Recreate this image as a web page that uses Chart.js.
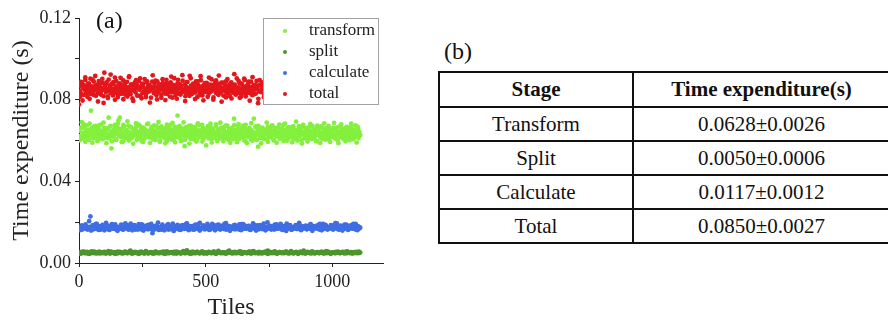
<!DOCTYPE html>
<html>
<head>
<meta charset="utf-8">
<title>Time expenditure per tile</title>
<script src="https://cdn.jsdelivr.net/npm/chart.js@4.4.1/dist/chart.umd.min.js"></script>
<style>
  html, body { margin: 0; padding: 0; background: #fff; }
  #wrap { position: relative; width: 888px; height: 320px; overflow: hidden;
          font-family: 'Liberation Serif', 'Times New Roman', serif; color: #111; }
  #plot { position: absolute; left: 0; top: 0; }
  .panel-tag { position: absolute; font-size: 24px; line-height: 24px; }
  #tbl { position: absolute; left: 438px; top: 71px; border-collapse: collapse;
         table-layout: fixed; width: 451px; font-size: 21px; }
  #tbl th, #tbl td { border: 2px solid #111; text-align: center; padding: 0; height: 32px; }
  #tbl th { height: 33px; font-weight: bold; }
</style>
</head>
<body>
<div id="wrap">
  <canvas id="plot" width="400" height="320"></canvas>
  <div class="panel-tag" style="left:96px; top:8px;">(a)</div>
  <div class="panel-tag" style="left:444px; top:39px;">(b)</div>
  <table id="tbl">
    <colgroup><col style="width:194px"><col style="width:257px"></colgroup>
    <thead><tr id="tblHead"></tr></thead>
    <tbody id="tblBody"></tbody>
  </table>
</div>
<script>
// Per-tile processing time of each stage, in milliseconds, sampled evenly over the tiles.
// Each stage has two interleaved sample passes (A on even steps, B half a step later).
const lastTile = 1110;

const transformMs = [
  64.8, 62.1, 65.9, 61.4, 69.0, 63.7, 60.8, 66.3, 62.9, 64.2, 61.8, 67.4, 63.1, 65.2, 60.3, 64.6, 62.5, 74.6, 66.0, 63.4,
  61.1, 65.5, 63.9, 67.1, 62.3, 64.0, 59.8, 66.6, 63.2, 61.6, 65.0, 62.7, 67.9, 64.4, 60.9, 63.6, 66.2, 62.0, 64.9, 61.3,
  65.7, 63.0, 71.2, 62.4, 66.8, 64.3, 56.1, 63.8, 61.9, 65.3, 62.6, 67.6, 60.5, 64.1, 63.5, 66.1, 69.8, 62.2, 71.2, 64.7,
  61.7, 65.8, 63.3, 59.6, 66.9, 62.8, 64.5, 61.2, 65.1, 63.9, 67.3, 62.0, 64.0, 60.7, 66.4, 63.4, 61.5, 65.6, 62.9, 64.8,
  63.1, 66.5, 60.2, 64.3, 62.4, 67.8, 63.6, 61.0, 65.4, 62.7, 64.6, 59.3, 66.0, 63.0, 65.2, 61.8, 64.1, 62.5, 68.2, 63.7,
  61.4, 64.9, 62.2, 66.7, 63.5, 60.6, 65.0, 62.8, 64.4, 61.3, 67.0, 63.2, 65.9, 62.1, 64.0, 60.1, 66.3, 63.8, 61.9, 65.5,
  62.6, 64.7, 61.1, 66.2, 63.3, 59.9, 65.7, 62.3, 64.2, 67.5, 61.6, 63.9, 65.3, 62.0, 60.4, 64.5, 66.8, 63.1, 61.7, 65.1,
  72.2, 62.9, 64.3, 61.5, 66.0, 63.6, 60.0, 65.8, 62.4, 64.8, 57.2, 63.0, 66.6, 61.9, 64.1, 62.7, 67.2, 63.4, 60.8, 65.2,
  62.1, 64.6, 66.4, 61.2, 63.8, 65.6, 62.5, 60.3, 64.9, 63.2, 67.7, 61.8, 65.0, 62.6, 64.2, 59.5, 66.1, 63.5, 61.4, 64.7,
  65.3, 62.2, 63.9, 67.0, 61.0, 64.4, 62.8, 66.5, 60.6, 63.7, 65.4, 62.0, 64.0, 61.6, 66.9, 63.3, 59.8, 65.1, 62.7, 64.5,
  61.3, 65.9, 63.0, 60.9, 66.3, 62.4, 64.8, 61.9, 63.6, 67.4, 62.1, 64.2, 60.2, 65.6, 63.4, 61.5, 64.7, 66.0, 62.9, 63.8,
  70.7, 62.3, 65.2, 61.1, 64.1, 63.1, 66.7, 60.7, 64.6, 62.6, 65.8, 61.7, 63.9, 67.3, 62.0, 64.3, 59.7, 65.5, 63.2, 61.8,
  64.9, 62.5, 66.2, 63.7, 60.4, 65.0, 62.2, 64.0, 70.7, 61.4, 63.5, 66.4, 62.8, 64.5, 57.0, 63.0, 65.7, 61.2, 64.2, 62.4,
  66.0, 63.6, 61.0, 64.8, 62.9, 65.3, 60.5, 63.9, 66.8, 62.1, 64.4, 61.6, 65.1, 63.3, 67.1, 62.7, 60.1, 64.6, 63.0, 65.9,
  61.9, 64.1, 62.3, 66.5, 63.8, 60.8, 65.4, 62.6, 64.0, 61.3, 67.6, 63.1, 65.0, 62.0, 64.7, 59.9, 66.3, 63.4, 61.7, 64.9,
  62.8, 65.6, 63.2, 61.1, 66.1, 62.4, 64.3, 60.6, 65.2, 63.7, 61.5, 64.5, 67.0, 62.2, 63.9, 65.8, 60.3, 64.1, 62.9, 66.6,
  63.5, 61.8, 65.1, 62.5, 64.8, 60.9, 66.4, 63.0, 61.4, 64.6, 62.1, 67.2, 63.6, 65.5, 61.0, 64.2, 62.7, 66.0, 59.6, 63.3,
  65.7, 62.3, 64.0, 61.2, 66.9, 63.4, 60.7, 65.3, 62.6, 64.4, 61.6, 66.2, 63.1, 64.9, 62.0, 60.4, 65.0, 63.8, 61.9, 64.7,
  62.4, 66.3, 63.2, 61.3, 65.6, 62.8, 64.1, 60.2, 66.7, 63.7, 61.7, 64.5, 62.2, 65.9, 63.0, 61.1, 64.8, 62.5, 66.1, 63.5,
  60.8, 64.3, 62.9, 65.4, 61.5, 63.9, 66.5, 62.1, 64.6, 60.6, 65.2, 63.3, 61.8, 64.0, 62.7, 66.8, 63.6, 61.2, 64.2, 62.6
];
const transformMsB = [
  60.1, 66.4, 62.0, 67.9, 59.4, 64.9, 61.2, 68.3, 63.6, 58.9, 66.8, 61.7, 65.3, 59.9, 67.5, 62.4, 60.6, 68.8, 64.2, 58.7,
  65.9, 61.0, 67.2, 59.6, 63.9, 66.1, 60.3, 68.1, 62.2, 65.6, 59.2, 67.7, 61.5, 64.6, 69.4, 60.0, 66.6, 62.8, 58.4, 65.0,
  68.5, 61.9, 63.2, 67.0, 59.7, 66.3, 60.8, 64.8, 68.0, 62.5, 58.8, 65.8, 61.4, 67.4, 60.2, 63.7, 69.1, 59.3, 66.9, 62.1,
  64.4, 58.6, 67.8, 61.1, 65.5, 60.5, 68.6, 62.9, 59.1, 66.2, 61.6, 67.1, 59.8, 64.7, 68.9, 60.4, 65.7, 62.3, 58.5, 67.3,
  63.5, 60.7, 66.7, 59.5, 68.4, 61.8, 64.3, 67.6, 60.9, 65.2, 57.6, 66.0, 62.6, 68.2, 59.0, 64.5, 61.3, 67.9, 60.0, 65.4,
  68.7, 62.7, 59.6, 66.5, 61.0, 67.1, 63.8, 58.9, 65.9, 60.6, 67.5, 62.0, 59.2, 68.0, 61.5, 64.9, 66.4, 60.1, 67.7, 58.7,
  65.1, 61.9, 68.5, 59.9, 63.0, 66.9, 60.3, 67.2, 62.4, 58.6, 66.3, 60.8, 64.0, 68.8, 59.4, 65.6, 61.7, 67.4, 60.2, 66.0,
  58.9, 63.4, 67.8, 61.2, 65.8, 59.7, 68.3, 62.1, 60.5, 66.6, 64.6, 59.1, 67.0, 61.4, 69.2, 60.0, 65.3, 62.8, 58.5, 67.6,
  61.1, 66.1, 59.5, 64.2, 68.1, 60.7, 65.0, 62.3, 59.8, 67.3, 63.1, 58.8, 66.8, 61.6, 68.4, 60.4, 64.8, 67.1, 59.3, 65.7,
  61.8, 68.6, 60.9, 66.2, 58.7, 63.6, 67.9, 61.0, 65.5, 59.6, 66.7, 62.2, 60.1, 68.2, 61.3, 64.4, 67.4, 59.0, 65.9, 62.6
];

const splitMs = [
  4.9, 5.3, 4.7, 5.1, 5.5, 4.8, 5.2, 4.6, 5.0, 5.4, 5.1, 4.8, 5.6, 4.9, 5.2, 5.0, 4.7, 5.3, 5.1, 4.8,
  5.4, 4.9, 5.0, 5.2, 4.6, 5.5, 5.1, 4.8, 5.3, 5.0, 4.7, 5.2, 5.4, 4.9, 5.1, 4.8, 5.6, 5.0, 4.9, 5.3,
  6.1, 5.2, 4.7, 5.1, 5.4, 4.9, 5.0, 5.3, 4.8, 5.2, 5.1, 4.6, 5.5, 5.0, 4.8, 5.2, 5.3, 4.9, 5.1, 4.7,
  5.4, 5.0, 4.8, 5.2, 5.1, 4.9, 5.6, 5.0, 4.7, 5.3, 4.9, 5.1, 5.2, 4.8, 5.4, 5.0, 4.6, 5.3, 5.1, 4.9,
  5.0, 5.5, 4.8, 5.2, 6.2, 4.9, 5.1, 5.3, 4.7, 5.0, 5.2, 4.8, 5.4, 5.1, 4.9, 5.0, 5.3, 4.6, 5.2, 5.1,
  4.8, 5.4, 5.0, 4.9, 5.2, 5.5, 4.7, 5.1, 5.0, 5.3, 4.9, 5.1, 4.8, 5.2, 5.0, 4.7, 5.4, 6.0, 5.1, 4.9,
  5.3, 5.0, 4.8, 5.2, 5.1, 4.9, 5.5, 4.7, 5.0, 5.2, 5.1, 4.8, 5.3, 4.9, 5.6, 5.0, 5.2, 4.8, 5.1, 4.9,
  5.4, 5.0, 4.7, 5.2, 5.1, 5.3, 4.9, 6.1, 5.0, 4.8, 5.2, 5.1, 4.9, 5.4, 4.6, 5.0, 5.3, 5.1, 4.8, 5.2,
  5.0, 5.5, 4.9, 5.1, 4.8, 5.3, 5.0, 4.7, 5.2, 5.4, 4.9, 5.1, 5.0, 5.2, 4.8, 6.0, 5.1, 4.9, 5.3, 5.0,
  5.2, 4.7, 5.4, 5.0, 4.9, 5.1, 5.3, 4.8, 5.2, 5.0, 4.9, 5.3, 5.1, 4.8, 5.5, 5.0, 4.7, 5.2, 5.1, 4.9,
  5.4, 5.0, 5.2, 4.8, 5.1, 5.3, 4.9, 5.0, 5.6, 4.8, 5.1, 4.9, 5.3, 5.0, 4.8, 5.2, 5.4, 5.0, 4.9, 5.1
];
const splitMsB = [
  4.6, 5.6, 4.9, 5.4, 4.5, 5.7, 5.0, 4.7, 5.5, 4.8, 5.3, 4.6, 5.8, 4.9, 5.2, 4.5, 5.6, 5.0, 4.7, 5.4,
  4.8, 5.7, 4.6, 5.3, 5.0, 4.5, 5.5, 4.9, 5.8, 4.7, 5.2, 4.6, 5.6, 5.0, 4.8, 5.4, 4.5, 5.7, 4.9, 5.3,
  4.7, 5.5, 5.0, 4.6, 5.8, 4.8, 5.2, 4.5, 5.6, 4.9, 5.4, 4.7, 5.7, 5.0, 4.6, 5.3, 4.8, 5.5, 4.5, 5.9,
  4.9, 5.2, 4.6, 5.6, 5.0, 4.7, 5.4, 4.8, 5.7, 4.5, 5.3, 4.9, 5.5, 4.6, 5.8, 5.0, 4.7, 5.2, 4.8, 5.6,
  4.5, 5.4, 4.9, 5.7, 4.6, 5.3, 5.0, 4.8, 5.5, 4.7, 5.8, 4.9, 5.2, 4.5, 5.6, 5.0, 4.6, 5.4, 4.8, 5.7,
  4.7, 5.3, 4.9, 5.5, 4.6, 5.8, 5.0, 4.5, 5.2, 4.8, 5.6, 4.9, 5.4, 4.7, 5.7, 5.0, 4.6, 5.3, 4.8, 5.5
];

const calculateMs = [
  17.6, 16.8, 17.9, 16.4, 17.2, 18.1, 16.9, 17.5, 16.6, 20.5, 22.8, 17.0, 18.3, 16.5, 17.7, 19.2, 16.7, 17.3, 18.0, 16.3,
  17.4, 18.6, 16.9, 17.1, 19.6, 16.6, 17.8, 16.2, 17.5, 18.2, 16.8, 17.0, 18.9, 16.4, 17.6, 17.2, 16.7, 18.4, 17.9, 16.5,
  17.3, 19.4, 16.9, 17.7, 16.3, 18.1, 17.0, 16.6, 17.8, 18.5, 16.4, 17.5, 17.1, 19.0, 16.8, 17.6, 16.2, 18.3, 17.2, 16.9,
  17.9, 16.5, 18.7, 17.3, 16.7, 14.6, 17.4, 18.0, 16.6, 17.1, 19.8, 16.9, 17.6, 16.3, 18.2, 17.0, 16.8, 17.7, 18.6, 16.4,
  17.3, 17.9, 16.6, 19.3, 17.2, 16.5, 18.0, 17.5, 16.9, 17.8, 16.2, 18.4, 17.1, 16.7, 17.6, 19.1, 16.8, 17.3, 18.1, 16.6,
  17.5, 16.4, 17.9, 18.8, 17.0, 16.7, 17.4, 19.7, 16.9, 17.2, 18.3, 16.5, 17.8, 16.8, 17.1, 18.0, 16.3, 17.6, 19.2, 17.0,
  16.6, 17.7, 18.5, 16.9, 17.3, 16.4, 18.2, 17.5, 16.7, 17.9, 19.5, 16.8, 17.2, 18.1, 16.5, 17.6, 17.0, 16.6, 18.7, 17.4,
  16.9, 17.8, 16.3, 17.1, 19.0, 16.7, 17.5, 18.3, 16.8, 17.2, 18.0, 16.4, 17.7, 16.9, 19.4, 17.3, 16.6, 17.9, 18.4, 16.5,
  17.4, 17.0, 16.8, 18.6, 17.6, 16.2, 17.2, 19.9, 16.9, 17.8, 16.7, 18.1, 17.3, 16.4, 17.5, 18.9, 16.8, 17.1, 17.7, 16.6,
  18.2, 17.0, 16.5, 17.9, 19.3, 16.9, 17.4, 18.0, 16.3, 17.6, 16.8, 17.2, 18.5, 16.7, 17.5, 19.6, 16.4, 17.8, 17.1, 16.9,
  17.3, 18.3, 16.6, 17.7, 16.8, 19.0, 17.2, 16.5, 18.1, 17.4, 16.9, 17.6, 18.7, 16.3, 17.0, 17.8, 19.2, 16.7, 17.5, 18.2,
  16.6, 17.3, 16.9, 18.4, 17.1, 16.4, 17.9, 19.5, 16.8, 17.6, 17.2, 16.5, 18.0, 17.4, 16.7, 18.8, 17.0, 16.9, 17.7, 16.6,
  18.3, 17.1, 16.8, 19.1, 17.5, 16.4, 17.8, 18.0, 16.9, 17.3
];
const calculateMsB = [
  16.1, 18.4, 17.0, 18.9, 16.4, 17.7, 15.9, 18.6, 16.8, 19.1, 16.2, 17.9, 18.7, 16.0, 17.4, 18.3, 16.5, 19.0, 16.9, 18.1,
  15.8, 17.6, 18.8, 16.3, 17.2, 18.5, 16.6, 19.3, 16.0, 17.8, 18.2, 16.4, 17.1, 18.9, 15.9, 17.5, 18.6, 16.7, 19.2, 16.1,
  17.9, 18.4, 16.2, 17.3, 18.8, 16.0, 17.7, 19.0, 16.5, 18.2, 15.7, 17.4, 18.7, 16.3, 17.0, 18.5, 16.8, 19.4, 16.1, 17.6,
  18.0, 16.4, 17.9, 18.9, 15.9, 17.2, 18.3, 16.6, 19.1, 16.2, 17.8, 18.6, 16.0, 17.5, 18.8, 16.7, 17.1, 19.2, 16.3, 18.1,
  15.8, 17.7, 18.4, 16.5, 17.3, 18.9, 16.1, 19.0, 16.8, 17.6, 18.2, 16.2, 17.9, 18.7, 15.9, 17.4, 18.5, 16.6, 19.3, 16.0,
  17.8, 18.3, 16.4, 17.1, 18.8, 16.9, 17.5, 19.1, 16.2, 18.0, 15.7, 17.6, 18.6, 16.3, 17.2, 18.4, 16.7, 19.0, 16.1, 17.9,
  18.1, 16.5, 17.3, 18.9, 15.8, 17.7, 18.2, 16.8, 19.2, 16.0, 17.4, 18.7, 16.4, 17.0, 18.5, 16.6, 17.8, 19.4, 16.3, 18.3,
  15.9, 17.5, 18.8, 16.2, 17.1, 18.6, 16.9, 19.1, 16.1, 17.6
];

const totalMs = [
  77.6, 84.2, 86.9, 83.1, 88.4, 85.7, 82.3, 87.1, 84.8, 89.6, 83.9, 86.2, 81.4, 85.0, 87.8, 84.1, 90.3, 82.8, 86.5, 85.3,
  83.4, 88.9, 84.6, 86.8, 81.9, 87.4, 85.9, 83.2, 89.1, 84.4, 86.1, 82.5, 85.6, 88.2, 84.9, 78.4, 93.2, 86.4, 83.7, 87.9,
  85.2, 81.6, 89.8, 84.0, 86.7, 83.3, 87.6, 85.4, 82.1, 88.6, 84.7, 90.8, 83.5, 86.3, 85.1, 81.2, 87.2, 84.5, 88.0, 82.9,
  86.6, 85.8, 83.0, 89.4, 84.3, 87.0, 82.4, 85.5, 88.7, 83.8, 86.0, 91.4, 84.2, 82.7, 87.5, 85.0, 80.6, 86.9, 84.6, 88.3,
  83.6, 85.7, 87.3, 82.0, 86.2, 89.2, 84.8, 81.8, 85.9, 87.7, 83.1, 86.5, 84.0, 90.1, 85.3, 82.6, 88.5, 84.4, 86.8, 83.9,
  87.1, 84.5, 81.0, 86.0, 88.8, 85.6, 83.4, 87.9, 84.1, 86.4, 82.2, 89.0, 85.2, 83.7, 87.4, 84.9, 86.6, 80.9, 85.8, 88.1,
  84.3, 86.7, 83.0, 85.4, 89.7, 82.8, 87.0, 84.6, 86.1, 81.5, 88.4, 85.1, 83.6, 87.2, 84.0, 90.5, 85.9, 82.3, 86.3, 84.7,
  88.0, 83.2, 85.5, 87.6, 82.5, 86.8, 84.2, 89.3, 85.0, 83.8, 87.3, 81.7, 86.2, 84.8, 88.6, 83.3, 85.7, 91.7, 84.4, 86.9,
  82.7, 85.3, 87.8, 84.1, 86.0, 83.5, 88.9, 85.6, 81.3, 87.1, 84.5, 86.4, 83.0, 89.5, 85.2, 82.1, 86.7, 84.9, 87.5, 83.7,
  85.8, 88.2, 84.0, 86.6, 82.9, 87.4, 85.1, 83.9, 90.0, 84.6, 86.3, 81.1, 85.4, 88.7, 83.4, 86.1, 84.7, 87.9, 82.4, 85.9,
  86.5, 83.6, 88.3, 84.8, 85.5, 82.0, 87.7, 84.3, 86.9, 89.1, 83.1, 85.7, 87.0, 84.0, 81.8, 86.2, 88.5, 85.0, 83.5, 86.8,
  84.2, 87.3, 82.6, 85.9, 90.4, 84.5, 86.0, 83.2, 88.1, 85.3, 81.5, 87.6, 84.7, 86.4, 83.8, 89.6, 85.1, 82.9, 86.7, 84.1,
  87.9, 85.6, 83.3, 86.2, 88.8, 84.4, 82.2, 85.8, 87.2, 84.9, 86.5, 83.0, 89.2, 85.4, 78.3, 86.9, 84.0, 87.4, 83.7, 85.2,
  88.4, 84.6, 86.1, 82.7, 85.0, 87.8, 83.9, 86.6, 84.2, 89.9, 85.7, 82.4, 87.1, 84.8, 86.3, 83.4, 88.0, 85.5, 81.9, 86.8,
  84.3, 87.5, 85.1, 83.1, 88.6, 84.7, 86.0, 82.8, 85.9, 87.3, 84.1, 90.6, 85.3, 83.6, 86.7, 84.5, 88.2, 82.3, 85.6, 87.0,
  83.8, 86.4, 84.9, 88.9, 85.2, 82.5, 87.6, 84.0, 86.2, 83.3, 89.3, 85.8, 84.4, 86.9, 81.6, 87.7, 85.0, 83.5, 88.4, 84.6,
  86.6, 83.0, 85.5, 87.9, 84.2, 86.1, 88.7, 82.9, 85.4, 84.8, 87.2, 83.7, 90.2, 85.9, 84.3, 86.5, 82.1, 87.4, 85.1, 83.9,
  88.1, 84.7, 86.3, 85.6, 82.6, 87.0, 84.0, 89.4, 85.3, 83.2, 86.8, 84.5, 87.8, 82.8, 85.7, 86.0, 83.6, 88.5, 84.9, 86.2,
  83.4, 87.3, 85.0, 81.8, 86.7, 84.1, 88.8, 85.8, 83.1, 86.4, 84.6, 87.6, 82.4, 85.2, 89.7, 84.3, 86.9, 83.8, 85.5, 87.1,
  84.8, 82.7, 86.1, 88.2, 85.4, 83.5, 87.5, 84.0, 86.6, 85.1, 83.0, 88.9, 84.4, 86.3, 82.2, 87.2, 85.6, 84.2, 86.8, 85.0
];
const totalMsB = [
  81.2, 88.7, 79.6, 86.4, 90.9, 83.0, 87.9, 80.4, 85.6, 89.8, 82.3, 91.6, 84.9, 79.1, 87.3, 83.8, 90.2, 81.7, 86.9, 88.4,
  80.8, 85.2, 92.3, 83.4, 87.6, 79.9, 89.1, 82.6, 86.1, 90.7, 84.3, 80.2, 88.0, 85.9, 81.5, 91.1, 83.7, 87.1, 79.4, 86.6,
  89.5, 82.0, 85.4, 90.4, 80.7, 87.8, 84.0, 81.3, 88.9, 85.7, 78.6, 86.3, 91.9, 83.2, 89.3, 80.1, 84.6, 87.4, 82.4, 90.0,
  85.9, 79.8, 88.2, 83.6, 86.8, 91.3, 81.0, 87.0, 84.4, 80.5, 89.7, 82.8, 86.0, 92.0, 83.9, 79.3, 88.6, 85.1, 81.9, 90.5,
  84.7, 87.5, 80.3, 86.5, 89.0, 82.2, 91.5, 83.3, 79.7, 88.1, 85.3, 81.4, 90.8, 84.1, 87.2, 80.0, 86.7, 89.4, 82.9, 91.8,
  83.5, 79.0, 88.3, 85.8, 81.1, 90.1, 84.5, 87.7, 80.6, 86.2, 92.5, 82.5, 85.0, 89.2, 80.9, 87.9, 83.1, 90.3, 81.6, 86.4,
  88.8, 79.5, 84.8, 91.0, 82.7, 87.1, 85.5, 80.4, 89.6, 83.8, 86.9, 81.2, 90.6, 84.2, 88.5, 79.2, 85.7, 91.2, 82.1, 87.3,
  80.7, 89.9, 83.4, 86.1, 81.8, 90.9, 85.2, 78.9, 88.0, 84.6, 87.6, 82.3, 91.4, 83.0, 80.2, 89.1, 86.6, 81.5, 90.2, 84.9,
  79.6, 88.4, 85.4, 82.6, 91.7, 83.7, 87.0, 80.8, 89.5, 86.3, 81.0, 90.4, 84.3, 88.7, 79.9, 85.9, 92.1, 82.8, 87.4, 80.5,
  89.8, 83.2, 86.0, 81.7, 90.7, 84.0, 88.2, 79.4, 85.6, 91.1, 82.4, 87.8, 80.1, 89.3, 83.6, 86.5, 81.3, 90.0, 84.7, 88.6
];

// Series names and colours, in legend order.
const seriesNames = ['transform', 'split', 'calculate', 'total'];
const seriesColors = ['#84f03e', '#4b962a', '#3f6de2', '#e3161b'];
const seriesValues = [
  [transformMs, transformMsB],
  [splitMs, splitMsB],
  [calculateMs, calculateMsB],
  [totalMs, totalMsB]
];

// Summary table.
const tableHeader = ['Stage', 'Time expenditure(s)'];
const stageNames = ['Transform', 'Split', 'Calculate', 'Total'];
const stageMeans = ['0.0628', '0.0050', '0.0117', '0.0850'];
const stageSpreads = ['0.0026', '0.0006', '0.0012', '0.0027'];

// Axis ticks: every tick gets a mark, only some get a label.
const xTicks = [0, 250, 500, 750, 1000];
const xTickLabels = ['0', '', '500', '', '1000'];
const xMax = 1200;
const yTicks = [0, 0.02, 0.04, 0.06, 0.08, 0.10, 0.12];
const yTickLabels = ['0.00', '', '0.04', '', '0.08', '', '0.12'];

// ---- table ----
const head = document.getElementById('tblHead');
tableHeader.forEach(t => { const th = document.createElement('th'); th.textContent = t; head.appendChild(th); });
const body = document.getElementById('tblBody');
stageNames.forEach((name, i) => {
  const tr = document.createElement('tr');
  const a = document.createElement('td'); a.textContent = name;
  const b = document.createElement('td'); b.textContent = stageMeans[i] + '\u00B1' + stageSpreads[i];
  tr.appendChild(a); tr.appendChild(b); body.appendChild(tr);
});

// ---- scatter plot ----
function toPoints([passA, passB]) {
  const a = passA.map((v, i) => ({ x: Math.round(i * lastTile / (passA.length - 1)), y: v / 1000 }));
  const b = passB.map((v, i) => ({ x: Math.round((i + 0.5) * lastTile / passB.length), y: v / 1000 }));
  return a.concat(b);
}

const serif = 'Liberation Serif';
const inkColor = '#222';

// Legend box drawn inside the plot area, on top of the points.
const insetLegend = {
  id: 'insetLegend',
  afterDatasetsDraw(chart) {
    const { ctx, chartArea } = chart;
    const w = 116, h = 87;
    const x0 = chartArea.right - 4 - w, y0 = chartArea.top;
    ctx.save();
    ctx.fillStyle = '#fff';
    ctx.fillRect(x0, y0, w, h);
    ctx.strokeStyle = '#a3a3a3';
    ctx.lineWidth = 1;
    ctx.strokeRect(x0 + 0.5, y0 + 0.5, w - 1, h - 1);
    ctx.font = '17px "' + serif + '"';
    ctx.textBaseline = 'middle';
    ctx.textAlign = 'left';
    chart.data.datasets.forEach((ds, i) => {
      const cy = y0 + 13 + i * 21;
      ctx.fillStyle = ds.backgroundColor;
      ctx.beginPath();
      ctx.arc(x0 + 22, cy, 2, 0, Math.PI * 2);
      ctx.fill();
      ctx.fillStyle = inkColor;
      ctx.fillText(ds.label, x0 + 46, cy);
    });
    ctx.restore();
  }
};

function fixedTicks(values) {
  return scale => { scale.ticks = values.map(v => ({ value: v })); };
}

new Chart(document.getElementById('plot'), {
  type: 'scatter',
  data: {
    datasets: seriesNames.map((name, i) => ({
      label: name,
      data: toPoints(seriesValues[i]),
      backgroundColor: seriesColors[i],
      borderWidth: 0,
      pointRadius: 2.4,
      pointHoverRadius: 2.4
    }))
  },
  options: {
    responsive: false,
    animation: false,
    devicePixelRatio: 1,
    layout: { padding: { left: 0, top: 18, right: 17, bottom: 0 } },
    plugins: { legend: { display: false }, tooltip: { enabled: false } },
    scales: {
      x: {
        type: 'linear',
        min: 0, max: xMax,
        afterBuildTicks: fixedTicks(xTicks),
        afterFit(scale) { scale.height = 57; },
        grid: { drawOnChartArea: false, drawTicks: true, tickLength: 4, color: inkColor },
        border: { display: true, color: inkColor, width: 1 },
        ticks: {
          autoSkip: false, maxRotation: 0, padding: 4,
          color: inkColor, font: { family: serif, size: 18 },
          callback: (v, i) => xTickLabels[i]
        },
        title: { display: true, text: 'Tiles', color: inkColor,
                 font: { family: serif, size: 24, lineHeight: 1 }, padding: { top: 0, bottom: 0 } }
      },
      y: {
        type: 'linear',
        min: 0, max: yTicks[yTicks.length - 1],
        afterBuildTicks: fixedTicks(yTicks),
        afterFit(scale) { scale.width = 79; },
        grid: { drawOnChartArea: false, drawTicks: true, tickLength: 4, color: inkColor },
        border: { display: true, color: inkColor, width: 1 },
        ticks: {
          autoSkip: false, padding: 4,
          color: inkColor, font: { family: serif, size: 18 },
          callback: (v, i) => yTickLabels[i]
        },
        title: { display: true, text: 'Time expenditure (s)', color: inkColor,
                 font: { family: serif, size: 24, lineHeight: 1 }, padding: { top: 10, bottom: 0 } }
      }
    }
  },
  plugins: [insetLegend]
});
</script>
</body>
</html>
